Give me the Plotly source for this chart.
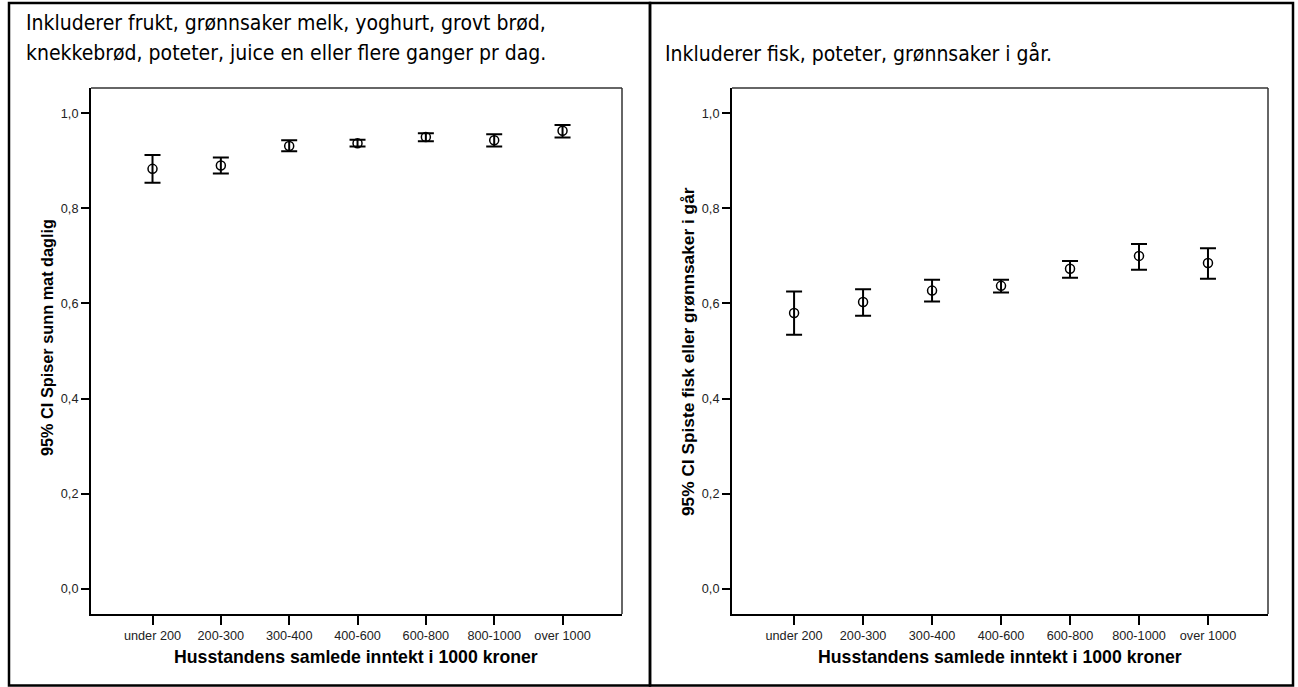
import plotly.graph_objects as go

categories = ["under 200", "200-300", "300-400", "400-600", "600-800", "800-1000", "over 1000"]

# Left panel: 95% CI "Spiser sunn mat daglig"
left_mean = [0.883, 0.890, 0.931, 0.937, 0.950, 0.943, 0.963]
left_lower = [0.854, 0.873, 0.920, 0.930, 0.941, 0.930, 0.949]
left_upper = [0.912, 0.907, 0.943, 0.944, 0.958, 0.956, 0.975]

# Right panel: 95% CI "Spiste fisk eller grønnsaker i går"
right_mean = [0.580, 0.603, 0.627, 0.637, 0.673, 0.700, 0.685]
right_lower = [0.534, 0.574, 0.604, 0.623, 0.654, 0.671, 0.652]
right_upper = [0.625, 0.630, 0.650, 0.650, 0.689, 0.725, 0.716]

y_ticks = [0.0, 0.2, 0.4, 0.6, 0.8, 1.0]

left_title_lines = ["Inkluderer frukt, grønnsaker melk, yoghurt, grovt brød,",
                    "knekkebrød, poteter, juice en eller flere ganger pr dag."]
right_title_lines = ["Inkluderer fisk, poteter, grønnsaker i går."]
x_title = "Husstandens samlede inntekt i 1000 kroner"
left_y_title = "95% CI Spiser sunn mat daglig"
right_y_title = "95% CI Spiste fisk eller grønnsaker i går"

W, H = 1298, 687

def px(x):
    return x / W

def py(y):
    return 1 - y / H

fig = go.Figure()

def add_panel(mean, lower, upper, xa, ya):
    fig.add_trace(go.Scatter(
        x=categories, y=mean, mode="markers",
        xaxis=xa, yaxis=ya,
        marker=dict(symbol="circle-open", size=9, color="black",
                    line=dict(width=1.5, color="black")),
        error_y=dict(type="data", symmetric=False,
                     array=[u - m for u, m in zip(upper, mean)],
                     arrayminus=[m - l for m, l in zip(mean, lower)],
                     color="black", thickness=2, width=8),
        showlegend=False, hoverinfo="skip",
    ))

add_panel(left_mean, left_lower, left_upper, "x", "y")
add_panel(right_mean, right_lower, right_upper, "x2", "y2")

tick_font = dict(family="Liberation Sans, Arial, sans-serif", size=12.7, color="#222")

xaxis_common = dict(
    type="category", range=[-0.9, 6.87], showgrid=False, zeroline=False,
    showline=True, linecolor="black", linewidth=2,
    ticks="outside", ticklen=9, tickwidth=2, tickcolor="black",
    tickfont=tick_font, fixedrange=True,
)
yaxis_common = dict(
    range=[-0.053, 1.053], showgrid=False, zeroline=False,
    showline=True, linecolor="black", linewidth=2,
    ticks="outside", ticklen=8, tickwidth=1.5, tickcolor="black",
    tickvals=y_ticks, tickformat=".1f", tickfont=tick_font, fixedrange=True,
)

dom_y = [py(614), py(88)]
fig.update_layout(
    width=W, height=H,
    margin=dict(l=0, r=0, t=0, b=0),
    paper_bgcolor="white", plot_bgcolor="white",
    separators=", ",
    xaxis=dict(domain=[px(91), px(622)], anchor="y", **xaxis_common),
    yaxis=dict(domain=dom_y, anchor="x", **yaxis_common),
    xaxis2=dict(domain=[px(732), px(1268)], anchor="y2", **xaxis_common),
    yaxis2=dict(domain=dom_y, anchor="x2", **yaxis_common),
)

shapes = []
# outer boxes
shapes.append(dict(type="rect", xref="paper", yref="paper",
                   x0=px(9), x1=px(650), y0=py(685.5), y1=py(3),
                   line=dict(color="black", width=2.5)))
shapes.append(dict(type="rect", xref="paper", yref="paper",
                   x0=px(650), x1=px(1293), y0=py(685.5), y1=py(3),
                   line=dict(color="black", width=2.5)))
# top and right frame of plot areas (thinner, dark gray)
for xd, yd in [("x domain", "y domain"), ("x2 domain", "y2 domain")]:
    shapes.append(dict(type="line", xref=xd, yref=yd, x0=0, x1=1, y0=1, y1=1,
                       line=dict(color="#333", width=1.5)))
    shapes.append(dict(type="line", xref=xd, yref=yd, x0=1, x1=1, y0=0, y1=1,
                       line=dict(color="#333", width=1.5)))
fig.update_layout(shapes=shapes)

title_font = dict(family="DejaVu Sans Condensed, DejaVu Sans, sans-serif", size=21, color="black")
xt_font = dict(family="Liberation Sans, Arial, sans-serif", size=17.7, color="black")
lyt_font = dict(family="Liberation Sans, Arial, sans-serif", size=16.3, color="black")
ryt_font = dict(family="Liberation Sans, Arial, sans-serif", size=17.3, color="black")

annotations = []
annotations.append(dict(text=left_title_lines[0], x=px(24), y=py(23), xref="paper", yref="paper",
                        xanchor="left", yanchor="middle", showarrow=False, font=title_font))
annotations.append(dict(text=left_title_lines[1], x=px(24), y=py(53), xref="paper", yref="paper",
                        xanchor="left", yanchor="middle", showarrow=False, font=title_font))
annotations.append(dict(text=right_title_lines[0], x=px(663), y=py(53), xref="paper", yref="paper",
                        xanchor="left", yanchor="middle", showarrow=False, font=title_font))
annotations.append(dict(text="<b>" + x_title + "</b>", x=px(356), y=py(657), xref="paper", yref="paper",
                        xanchor="center", yanchor="middle", showarrow=False, font=xt_font))
annotations.append(dict(text="<b>" + x_title + "</b>", x=px(1000), y=py(657), xref="paper", yref="paper",
                        xanchor="center", yanchor="middle", showarrow=False, font=xt_font))
annotations.append(dict(text="<b>" + left_y_title + "</b>", x=px(47), y=py(338), xref="paper", yref="paper",
                        xanchor="center", yanchor="middle", textangle=-90, showarrow=False, font=lyt_font))
annotations.append(dict(text="<b>" + right_y_title + "</b>", x=px(688), y=py(352), xref="paper", yref="paper",
                        xanchor="center", yanchor="middle", textangle=-90, showarrow=False, font=ryt_font))
fig.update_layout(annotations=annotations)

fig.write_html("out.html")
